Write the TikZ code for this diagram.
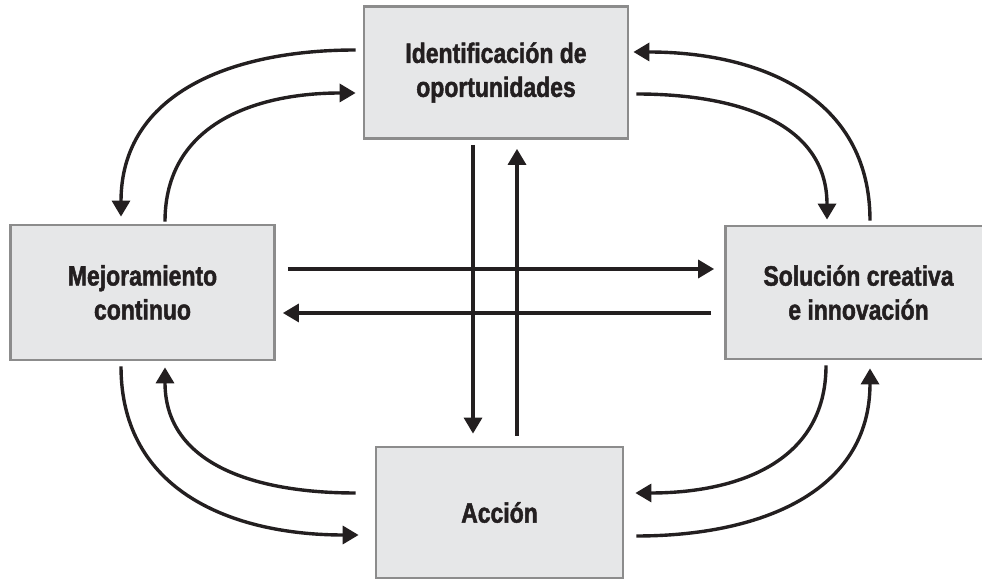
\documentclass[tikz,border=0pt]{standalone}
\usepackage{fontspec}
\setmainfont{Liberation Sans}[FakeStretch=0.82, BoldFeatures={FakeBold=1.6}]
\usetikzlibrary{arrows.meta}
\definecolor{boxfill}{HTML}{E6E7E8}
\definecolor{boxline}{HTML}{8C8C8C}
\definecolor{ink}{HTML}{231F20}
\begin{document}
\begin{tikzpicture}[x=1pt,y=1pt]
\tikzstyle{box}=[rectangle, draw=boxline, line width=2.8pt, fill=boxfill, text=ink, align=center, minimum width=264pt, minimum height=132pt, font=\fontsize{28}{34}\selectfont\bfseries]
\tikzstyle{arrow}=[draw=ink, line width=3.4pt, -{Triangle[length=16pt,width=18pt]}]
\useasboundingbox (0,0) rectangle (982,580);
\node[box] (ident) at (496,507.5) {Identificación de\\oportunidades};
\node[box, minimum height=135pt] (mejora) at (142.5,287.5) {Mejoramiento\\continuo};
\node[box, minimum width=266pt, minimum height=133pt] (sol) at (858.5,287.5) {Solución creativa\\e innovación};
\node[box, minimum width=247pt, minimum height=131pt] (accion) at (499.5,67.5) {Acción};
% curved arrows, top
\draw[arrow] ([xshift=-7pt,yshift=22.5pt]ident.west) to[out=180,in=90,looseness=1.1] ([xshift=-21.5pt,yshift=7pt]mejora.north);
\draw[arrow] ([xshift=22.5pt,yshift=2pt]mejora.north) to[out=90,in=180,looseness=1.1] ([xshift=-7pt,yshift=-20.5pt]ident.west);
\draw[arrow] ([xshift=11.5pt,yshift=4pt]sol.north) to[out=90,in=0,looseness=1.1] ([xshift=4pt,yshift=20.5pt]ident.east);
\draw[arrow] ([xshift=7pt,yshift=-21.5pt]ident.east) to[out=0,in=90,looseness=1.1] ([xshift=-31.5pt,yshift=5pt]sol.north);
% curved arrows, bottom
\draw[arrow] ([xshift=-21.5pt,yshift=-5pt]mejora.south) to[out=-90,in=180,looseness=1.1] ([xshift=-16pt,yshift=-22.5pt]accion.west);
\draw[arrow] ([xshift=-19pt,yshift=19.5pt]accion.west) to[out=180,in=-90,looseness=1.1] ([xshift=22.5pt,yshift=-6pt]mejora.south);
\draw[arrow] ([xshift=12pt,yshift=-23.5pt]accion.east) to[out=0,in=-90,looseness=1.1] ([xshift=11.5pt,yshift=-8pt]sol.south);
\draw[arrow] ([xshift=-32.5pt,yshift=-5pt]sol.south) to[out=-90,in=0,looseness=1.1] ([xshift=11pt,yshift=19.5pt]accion.east);
% straight arrows
\draw[arrow] ([xshift=-23pt,yshift=-5pt]ident.south) -- ([xshift=-26.5pt,yshift=12pt]accion.north);
\draw[arrow] ([xshift=17.5pt,yshift=10pt]accion.north) -- ([xshift=21pt,yshift=-9pt]ident.south);
\draw[arrow] ([xshift=12pt,yshift=23.5pt]mejora.east) -- ([xshift=-10pt,yshift=23.5pt]sol.west);
\draw[arrow] ([xshift=-13pt,yshift=-20.5pt]sol.west) -- ([xshift=7pt,yshift=-20.5pt]mejora.east);
\end{tikzpicture}
\end{document}
